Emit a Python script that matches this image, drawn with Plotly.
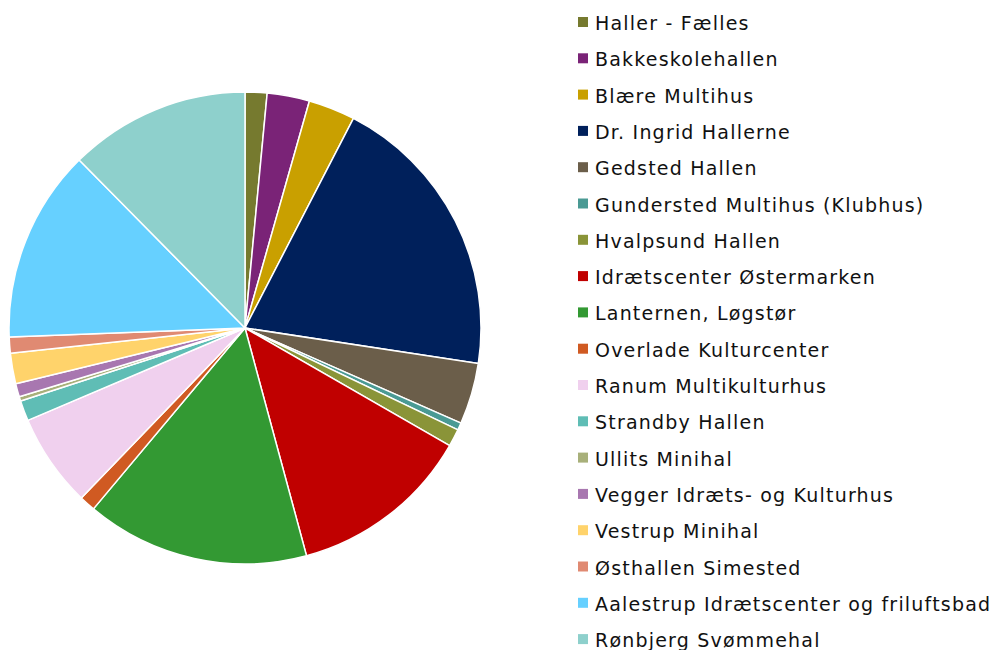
import plotly.graph_objects as go

labels = [
    "Haller - Fælles", "Bakkeskolehallen", "Blære Multihus", "Dr. Ingrid Hallerne",
    "Gedsted Hallen", "Gundersted Multihus (Klubhus)", "Hvalpsund Hallen",
    "Idrætscenter Østermarken", "Lanternen, Løgstør", "Overlade Kulturcenter",
    "Ranum Multikulturhus", "Strandby Hallen", "Ullits Minihal",
    "Vegger Idræts- og Kulturhus", "Vestrup Minihal", "Østhallen Simested",
    "Aalestrup Idrætscenter og friluftsbad", "Rønbjerg Svømmehal",
]
values = [1.5, 2.9, 3.2, 19.8, 4.2, 0.5, 1.2, 12.5, 15.3, 1.1,
          6.4, 1.4, 0.3, 0.9, 2.1, 1.1, 13.2, 12.4]
colors = [
    "#767A2F", "#7A2377", "#C9A000", "#00205B", "#6B5E4A", "#4A9A94",
    "#8A9438", "#C00000", "#339933", "#D05A22", "#F0D0EE", "#5FBDB5",
    "#A8B07A", "#A877B0", "#FFD36B", "#E08A72", "#66D0FF", "#8ED0CC",
]

W, H = 993, 650
fig = go.Figure(go.Pie(
    labels=labels, values=values, sort=False, direction="clockwise", rotation=0,
    marker=dict(colors=colors, line=dict(color="white", width=1.5)),
    textinfo="none", showlegend=False,
    domain=dict(x=[9 / W, 481 / W], y=[1 - 564 / H, 1 - 92 / H]),
))

# Legend drawn as annotations + square markers
y0, dy = 22, 36.3
for i, (lab, col) in enumerate(zip(labels, colors)):
    yc = y0 + i * dy
    fig.add_annotation(x=593 / W, y=1 - (yc + 1) / H, xref="paper", yref="paper",
                       text='<span style="letter-spacing:1.2px">' + lab + "</span>",
                       showarrow=False, xanchor="left", yanchor="middle",
                       font=dict(size=19, color="#111111", family="Verdana, DejaVu Sans"))
    fig.add_shape(type="rect", xref="paper", yref="paper",
                  x0=578 / W, x1=588 / W, y0=1 - (yc + 5) / H, y1=1 - (yc - 5) / H,
                  fillcolor=col, line=dict(width=0))

fig.update_layout(width=W, height=H, margin=dict(l=0, r=0, t=0, b=0),
                  paper_bgcolor="white", plot_bgcolor="white",
                  font=dict(family="Verdana, DejaVu Sans"))
fig.write_html("out.html", config={"displayModeBar": False},
               post_script="document.body.style.margin='0';")
